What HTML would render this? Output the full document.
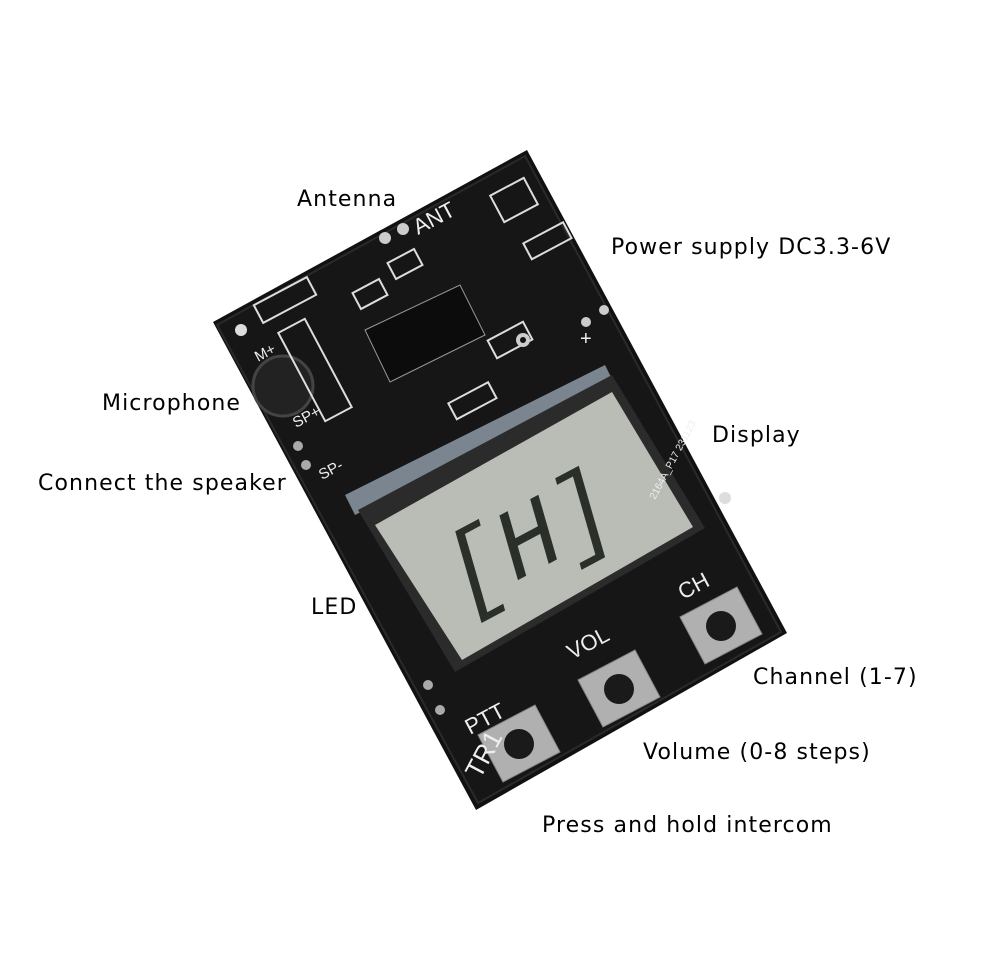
<!DOCTYPE html>
<html><head><style>
body{margin:0;background:#fff;}
svg{display:block}
text{font-family:"DejaVu Sans","Liberation Sans",sans-serif;font-size:22px;letter-spacing:1.1px;fill:#000}
text.w{fill:#eee;font-family:"Liberation Sans",sans-serif;letter-spacing:0}
</style></head><body>
<svg width="990" height="970" viewBox="0 0 990 970">
<polygon points="213,322 527,150 787,633 476,810" fill="#111"/>
<polygon points="217,325 525,156 781,632 478,803" fill="#161616" stroke="#2a2a2a" stroke-width="2"/>
<polygon points="365,330 460,285 485,335 390,382" fill="#0c0c0c" stroke="#999" stroke-width="1"/>
<circle cx="283" cy="386" r="30" fill="#222" stroke="#444" stroke-width="3"/>
<g fill="none" stroke="#ddd" stroke-width="2">
<rect x="495" y="185" width="38" height="30" transform="rotate(-28 514 200)"/>
<rect x="525" y="232" width="45" height="18" transform="rotate(-28 547 241)"/>
<rect x="390" y="255" width="30" height="18" transform="rotate(-28 405 264)"/>
<rect x="355" y="285" width="30" height="18" transform="rotate(-28 370 294)"/>
<rect x="300" y="320" width="30" height="100" transform="rotate(-28 315 370)"/>
<rect x="255" y="290" width="60" height="20" transform="rotate(-28 285 300)"/>
<rect x="490" y="330" width="40" height="20" transform="rotate(-28 510 340)"/>
<rect x="450" y="392" width="45" height="18" transform="rotate(-28 472 401)"/>
</g>
<circle cx="385" cy="238" r="6" fill="#ccc"/><circle cx="403" cy="229" r="6" fill="#ccc"/>
<circle cx="604" cy="310" r="5" fill="#ccc"/><circle cx="586" cy="322" r="5" fill="#ccc"/>
<circle cx="241" cy="330" r="6" fill="#ddd"/><circle cx="725" cy="498" r="6" fill="#ddd"/>
<circle cx="523" cy="340" r="7" fill="#ccc"/><circle cx="523" cy="340" r="3" fill="#111"/>
<circle cx="298" cy="446" r="5" fill="#aaa"/><circle cx="306" cy="465" r="5" fill="#aaa"/>
<circle cx="428" cy="685" r="5" fill="#aaa"/><circle cx="440" cy="710" r="5" fill="#aaa"/>
<polygon points="345,495 605,365 615,385 355,515" fill="#7a8590"/>
<polygon points="358,510 612,375 705,528 455,672" fill="#2b2b2b"/>
<polygon points="375,525 612,392 693,527 462,660" fill="#b9bdb6"/>
<text x="0" y="0" transform="translate(458,612) rotate(-28) skewX(-12)" style="font-size:100px;fill:#2a2f2a;font-family:'Liberation Mono',monospace;letter-spacing:0">[H]</text>
<text class="w" x="0" y="0" transform="translate(655,500) rotate(-62)" style="font-size:10px">2164A_P17 231123</text>
<polygon points="478,735 535,705 560,752 503,782" fill="#b0b0b0" stroke="#888"/>
<circle cx="519" cy="744" r="15" fill="#1a1a1a"/>
<polygon points="578,680 635,650 660,697 603,727" fill="#b0b0b0" stroke="#888"/>
<circle cx="619" cy="689" r="15" fill="#1a1a1a"/>
<polygon points="680,617 737,587 762,634 705,664" fill="#b0b0b0" stroke="#888"/>
<circle cx="721" cy="626" r="15" fill="#1a1a1a"/>
<text class="w" x="0" y="0" transform="translate(418,235) rotate(-28)" style="font-size:22px">ANT</text>
<text class="w" x="0" y="0" transform="translate(470,735) rotate(-28)" style="font-size:22px">PTT</text>
<text class="w" x="0" y="0" transform="translate(572,660) rotate(-28)" style="font-size:22px">VOL</text>
<text class="w" x="0" y="0" transform="translate(683,600) rotate(-28)" style="font-size:22px">CH</text>
<text class="w" x="0" y="0" transform="translate(480,780) rotate(-62)" style="font-size:26px">TR1</text>
<text class="w" x="0" y="0" transform="translate(296,428) rotate(-28)" style="font-size:15px">SP+</text>
<text class="w" x="0" y="0" transform="translate(322,480) rotate(-28)" style="font-size:15px">SP-</text>
<text class="w" x="0" y="0" transform="translate(258,362) rotate(-28)" style="font-size:15px">M+</text>
<text class="w" x="580" y="345" style="font-size:20px">+</text>
<text x="297" y="206">Antenna</text>
<text x="611" y="254">Power supply DC3.3-6V</text>
<text x="102" y="410">Microphone</text>
<text x="712" y="442">Display</text>
<text x="38" y="490">Connect the speaker</text>
<text x="311" y="614">LED</text>
<text x="753" y="684">Channel (1-7)</text>
<text x="643" y="759">Volume (0-8 steps)</text>
<text x="542" y="832">Press and hold intercom</text>
</svg>
</body></html>
